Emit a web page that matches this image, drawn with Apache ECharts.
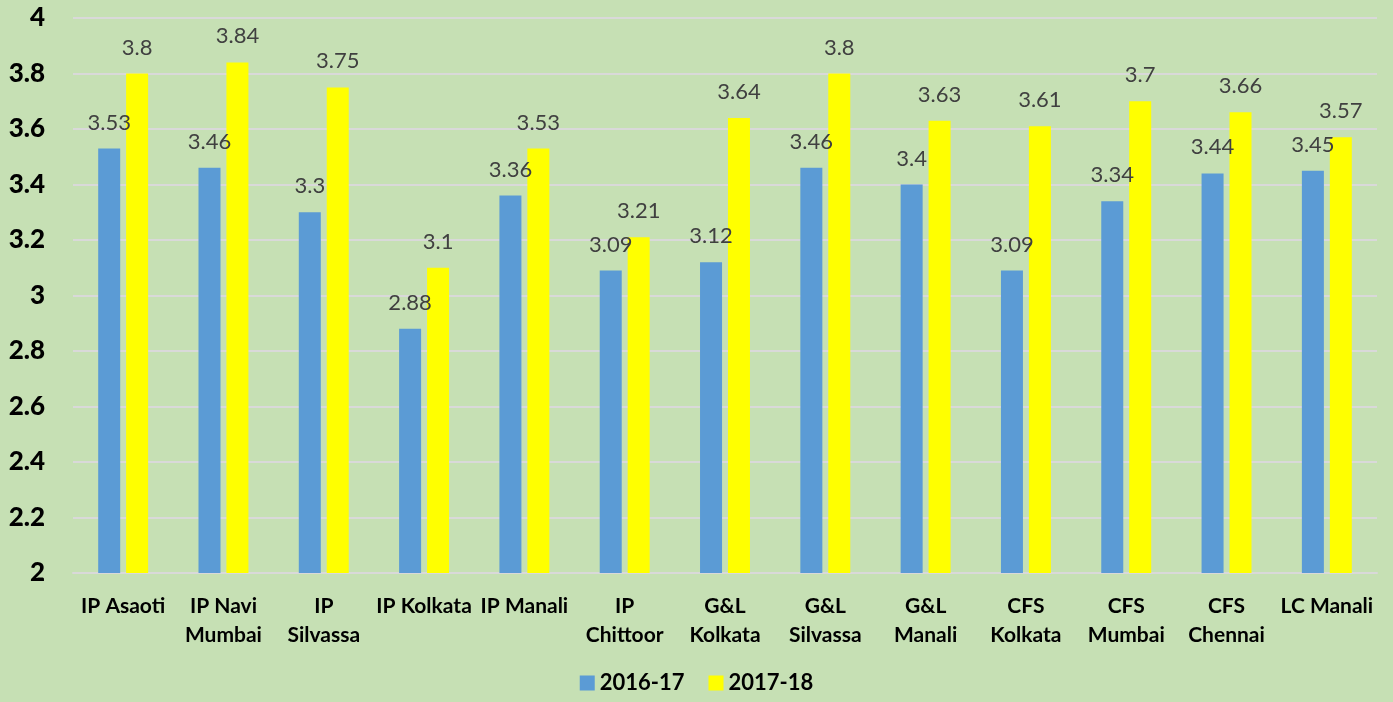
<!DOCTYPE html>
<html>
<head>
<meta charset="utf-8">
<script src="https://cdn.jsdelivr.net/npm/echarts@6/dist/echarts.min.js"></script>
<style>
html,body{margin:0;padding:0;background:#c6e0b4;}
#chart{width:1393px;height:702px;}
</style>
</head>
<body>
<div id="chart"></div>
<script>
const categories = ['IP Asaoti','IP Navi\nMumbai','IP\nSilvassa','IP Kolkata','IP Manali','IP\nChittoor','G&L\nKolkata','G&L\nSilvassa','G&L\nManali','CFS\nKolkata','CFS\nMumbai','CFS\nChennai','LC Manali'];
const series2016 = [3.53,3.46,3.3,2.88,3.36,3.09,3.12,3.46,3.4,3.09,3.34,3.44,3.45];
const series2017 = [3.8,3.84,3.75,3.1,3.53,3.21,3.64,3.8,3.63,3.61,3.7,3.66,3.57];
const seriesNames = ['2016-17','2017-18'];

const chart = echarts.init(document.getElementById('chart'));
const font = 'Lato, "Open Sans", sans-serif';
const labelStyle = {show:true, position:'top', distance:15, fontSize:22, color:'#404040', fontFamily:font};
chart.setOption({
  backgroundColor:'#c6e0b4',
  animation:false,
  grid:{left:73, right:16, top:18, bottom:129, containLabel:false},
  legend:{
    bottom:3, left:'center', itemWidth:15, itemHeight:15, itemGap:24,
    icon:'rect',
    textStyle:{fontSize:22, fontWeight:'bold', color:'#000', fontFamily:font},
    data:seriesNames
  },
  xAxis:{
    type:'category', data:categories,
    axisLine:{show:true, lineStyle:{color:'#d9d9d9', width:2}},
    axisTick:{show:false},
    axisLabel:{interval:0, fontSize:21, fontWeight:'bold', color:'#000', fontFamily:font, lineHeight:29, margin:19}
  },
  yAxis:{
    type:'value', min:2, max:4, interval:0.2,
    axisLine:{show:false}, axisTick:{show:false},
    splitLine:{lineStyle:{color:'#d9d9d9', width:2}},
    axisLabel:{fontSize:26, fontWeight:900, color:'#000', fontFamily:font, margin:28,
      formatter:v=>String(Math.round(v*10)/10)}
  },
  series:[
    {name:seriesNames[0], type:'bar', data:series2016, barWidth:22, barGap:'27%',
     itemStyle:{color:'#5b9bd5'}, label:labelStyle},
    {name:seriesNames[1], type:'bar', data:series2017, barWidth:22,
     itemStyle:{color:'#ffff00'}, label:labelStyle}
  ]
});
</script>
</body>
</html>
